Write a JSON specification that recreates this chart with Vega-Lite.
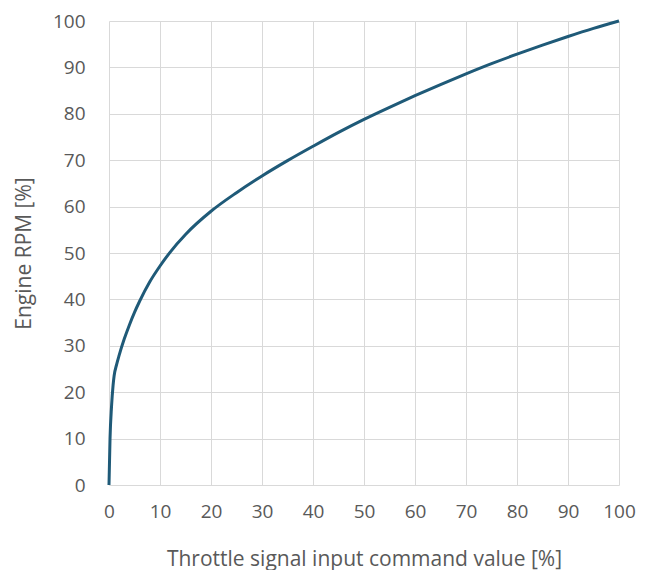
{
  "$schema": "https://vega.github.io/schema/vega-lite/v6.json",
  "width": 510,
  "height": 464,
  "autosize": {"type": "none"},
  "padding": {"left": 109, "top": 21, "right": 31, "bottom": 85},
  "background": "white",
  "config": {
    "view": {"stroke": null},
    "font": "Open Sans",
    "axis": {
      "gridColor": "#d9d9d9",
      "gridWidth": 1,
      "domain": false,
      "ticks": false,
      "labelColor": "#595959",
      "titleColor": "#595959",
      "labelFontSize": 19,
      "titleFontSize": 21,
      "titleFontWeight": "normal",
      "labelFont": "Open Sans",
      "titleFont": "Open Sans"
    }
  },
  "data": {
    "values": [
      {"x": 0, "y": 0},
      {"x": 0.2, "y": 10},
      {"x": 0.5, "y": 17},
      {"x": 0.8, "y": 21.5},
      {"x": 1, "y": 23.5},
      {"x": 1.5, "y": 26},
      {"x": 2, "y": 28},
      {"x": 3, "y": 31.5},
      {"x": 4, "y": 34.5},
      {"x": 5, "y": 37.2},
      {"x": 6, "y": 39.6},
      {"x": 8, "y": 43.8},
      {"x": 10, "y": 47.2},
      {"x": 12, "y": 50.2},
      {"x": 15, "y": 54},
      {"x": 20, "y": 59},
      {"x": 25, "y": 63},
      {"x": 30, "y": 66.6},
      {"x": 35, "y": 69.9},
      {"x": 40, "y": 73},
      {"x": 45, "y": 76},
      {"x": 50, "y": 78.8},
      {"x": 55, "y": 81.4},
      {"x": 60, "y": 83.9},
      {"x": 65, "y": 86.3},
      {"x": 70, "y": 88.6},
      {"x": 75, "y": 90.8},
      {"x": 80, "y": 92.85},
      {"x": 85, "y": 94.8},
      {"x": 90, "y": 96.65},
      {"x": 95, "y": 98.4},
      {"x": 100, "y": 100}
    ]
  },
  "mark": {"type": "line", "color": "#1f5a78", "strokeWidth": 3, "interpolate": "monotone"},
  "encoding": {
    "x": {
      "field": "x", "type": "quantitative",
      "scale": {"domain": [0, 100], "nice": false},
      "axis": {"values": [0,10,20,30,40,50,60,70,80,90,100], "title": "Throttle signal input command value [%]", "labelPadding": 17, "labelFlush": false, "titleY": 80, "titleBaseline": "alphabetic"}
    },
    "y": {
      "field": "y", "type": "quantitative",
      "scale": {"domain": [0, 100], "nice": false},
      "axis": {"values": [0,10,20,30,40,50,60,70,80,90,100], "title": "Engine RPM [%]", "labelPadding": 24, "labelFlush": false, "titleX": -85, "titleBaseline": "middle"}
    }
  }
}
